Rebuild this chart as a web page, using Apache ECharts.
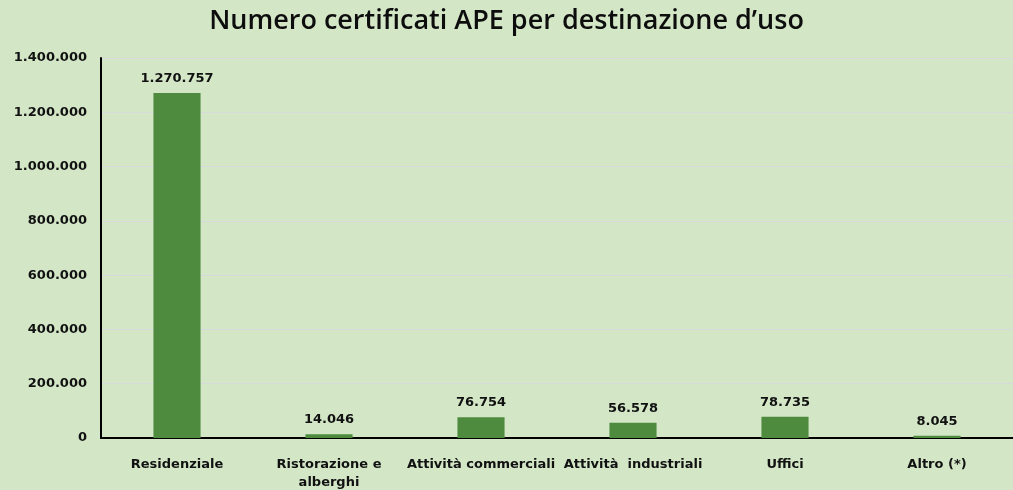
<!DOCTYPE html>
<html>
<head>
<meta charset="utf-8">
<script src="https://cdn.jsdelivr.net/npm/echarts@6/dist/echarts.min.js"></script>
<style>
  html, body { margin: 0; padding: 0; background: #D3E7C7; }
  #chart { width: 1013px; height: 490px; }
</style>
</head>
<body>
<div id="chart"></div>
<script>
const categories = ['Residenziale', 'Ristorazione e\nalberghi', 'Attività commerciali', 'Attività  industriali', 'Uffici', 'Altro (*)'];
const values = [1270757, 14046, 76754, 56578, 78735, 8045];
const titleText = 'Numero certificati APE per destinazione d\u2019uso';

// Italian thousands separator (dot)
function fmt(v) {
  return String(Math.round(v)).replace(/\B(?=(\d{3})+(?!\d))/g, '.');
}

const FONT = 'DejaVu Sans';

const chart = echarts.init(document.getElementById('chart'), null, { renderer: 'canvas' });
chart.setOption({
  backgroundColor: '#D3E7C7',
  animation: false,
  title: {
    text: titleText,
    left: 'center',
    top: 3,
    textStyle: { fontFamily: 'Open Sans', fontWeight: 600, fontSize: 27, color: '#0d0d0d' }
  },
  grid: { left: 101, right: 0, top: 58, bottom: 52, outerBoundsMode: 'none', containLabel: false },
  xAxis: {
    type: 'category',
    data: categories,
    axisLine: { show: true, lineStyle: { color: '#000', width: 2 } },
    axisTick: { show: false },
    axisLabel: {
      interval: 0,
      margin: 18,
      fontFamily: FONT, fontWeight: 'bold', fontSize: 13, color: '#111',
      lineHeight: 18
    }
  },
  yAxis: {
    type: 'value',
    min: 0, max: 1400000, interval: 200000,
    axisLine: { show: true, lineStyle: { color: '#000', width: 2 } },
    axisTick: { show: false },
    splitLine: { lineStyle: { color: '#D8D9DC', width: 1 } },
    axisLabel: {
      margin: 14,
      fontFamily: FONT, fontWeight: 'bold', fontSize: 13, color: '#111',
      formatter: fmt
    }
  },
  series: [{
    type: 'bar',
    data: values,
    barWidth: '31%',
    itemStyle: { color: '#4E8B3F' },
    label: {
      show: true, position: 'top', distance: 8,
      fontFamily: FONT, fontWeight: 'bold', fontSize: 13, color: '#111',
      formatter: p => fmt(p.value)
    }
  }]
});
</script>
</body>
</html>
